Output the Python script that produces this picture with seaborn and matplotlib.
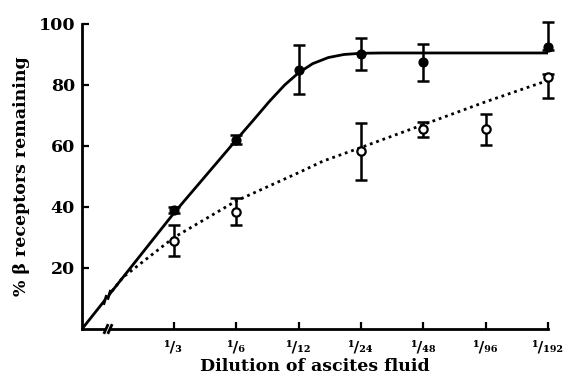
import numpy as np
import pandas as pd
import matplotlib
matplotlib.use("Agg")
import matplotlib.pyplot as plt
import seaborn as sns

# ---- data ----
dilution_labels = ["¹/₃", "¹/₆", "¹/₁₂", "¹/₂₄", "¹/₄₈", "¹/₉₆", "¹/₁₉₂"]
dilution_pos = [1.474, 2.474, 3.474, 4.474, 5.474, 6.474, 7.474]

# filled circles (solid line)
filled_x = [1.474, 2.474, 3.474, 4.474, 5.474, 7.474]
filled_y = [39.0, 62.0, 85.0, 90.3, 87.5, 92.6]
filled_err_lo = [1.0, 1.5, 8.0, 5.3, 6.2, 1.0]
filled_err_hi = [1.0, 1.5, 8.0, 5.0, 5.9, 8.0]

# open circles (dotted line)
open_x = [1.474, 2.474, 4.474, 5.474, 6.474, 7.474]
open_y = [29.0, 38.5, 58.5, 65.5, 65.5, 82.5]
open_err_lo = [5.0, 4.5, 9.5, 2.5, 5.2, 6.8]
open_err_hi = [5.2, 4.5, 9.0, 2.5, 5.0, 1.0]

# fitted curves
solid_x = [0.0, 1.474, 2.474, 2.75, 3.0, 3.25, 3.474, 3.7, 3.95, 4.2, 4.474, 4.8, 5.5, 7.474]
solid_y = [0.0, 38.0, 62.0, 68.5, 74.5, 80.0, 84.0, 87.0, 89.0, 90.0, 90.4, 90.5, 90.5, 90.5]
dotted_x = [0.48, 0.66, 1.474, 2.474, 3.5, 3.86, 4.474, 5.474, 6.474, 7.474]
dotted_y = [12.4, 17.0, 30.0, 42.0, 51.5, 55.0, 59.5, 67.0, 74.5, 81.5]

sns.set_theme(style="white")
plt.rcParams["font.family"] = ["DejaVu Serif"]
plt.rcParams["font.weight"] = "bold"
plt.rcParams["text.color"] = "black"
plt.rcParams["axes.labelcolor"] = "black"
plt.rcParams["xtick.color"] = "black"
plt.rcParams["ytick.color"] = "black"

fig = plt.figure(figsize=(5.64, 3.83), dpi=100)
ax = fig.add_axes([82 / 564, 54 / 383, 466 / 564, 305 / 383])

sns.lineplot(x=dotted_x, y=dotted_y, ax=ax, color="black", linewidth=2.0,
             linestyle=(0, (1, 1.4)), sort=False, estimator=None)
sns.lineplot(x=solid_x, y=solid_y, ax=ax, color="black", linewidth=2.0,
             sort=False, estimator=None)

ax.errorbar(filled_x, filled_y, yerr=[filled_err_lo, filled_err_hi], fmt="none",
            ecolor="black", elinewidth=1.8, capsize=4, capthick=1.8, clip_on=False, zorder=4)
ax.errorbar(open_x, open_y, yerr=[open_err_lo, open_err_hi], fmt="none",
            ecolor="black", elinewidth=1.8, capsize=4, capthick=1.8, clip_on=False, zorder=4)

sns.scatterplot(x=filled_x, y=filled_y, ax=ax, color="black", s=40,
                edgecolor="black", linewidth=1, zorder=5, clip_on=False)
sns.scatterplot(x=open_x, y=open_y, ax=ax, color="white", s=36,
                edgecolor="black", linewidth=1.6, zorder=5, clip_on=False)

ax.set_xlim(0, 7.474)
ax.set_ylim(0, 100)
ax.set_xticks(dilution_pos)
ax.set_xticklabels(dilution_labels, fontsize=11, fontweight="bold", color="black")
ax.set_yticks([20, 40, 60, 80, 100])
ax.set_yticklabels(["20", "40", "60", "80", "100"], fontsize=12.5, fontweight="bold",
                   color="black")
ax.tick_params(axis="both", direction="in", length=5, width=1.6, color="black",
               bottom=True, left=True, pad=5)
ax.tick_params(axis="x", pad=8)

for s in ["top", "right"]:
    ax.spines[s].set_visible(False)
for s in ["left", "bottom"]:
    ax.spines[s].set_color("black")
    ax.spines[s].set_linewidth(2.0)

ax.set_xlabel("Dilution of ascites fluid", fontsize=12.5, fontweight="bold", labelpad=3,
              color="black")
ax.set_ylabel("% β receptors remaining", fontsize=12.5, fontweight="bold", labelpad=6,
              color="black")

# axis-break marks on x axis and on the solid curve
slope = solid_y[1] / solid_x[1]
hw, hh = 0.035, 1.6
# x-axis break
ax.plot([0.385, 0.449], [0, 0], color="white", lw=3, solid_capstyle="butt",
        clip_on=False, zorder=5)
for cx in (0.385, 0.449):
    ax.plot([cx - hw, cx + hw], [-hh, hh], color="black", lw=2.0,
            solid_capstyle="butt", clip_on=False, zorder=6)
# curve break
ax.plot([0.37, 0.435], [0.37 * slope, 0.435 * slope], color="white", lw=3.5,
        solid_capstyle="butt", zorder=5)
for cx in (0.37, 0.435):
    cy = cx * slope
    ax.plot([cx - hw * 0.7, cx + hw * 0.7], [cy - hh, cy + hh], color="black", lw=2.0,
            solid_capstyle="butt", zorder=6)

fig.savefig("out.png", dpi=100)
